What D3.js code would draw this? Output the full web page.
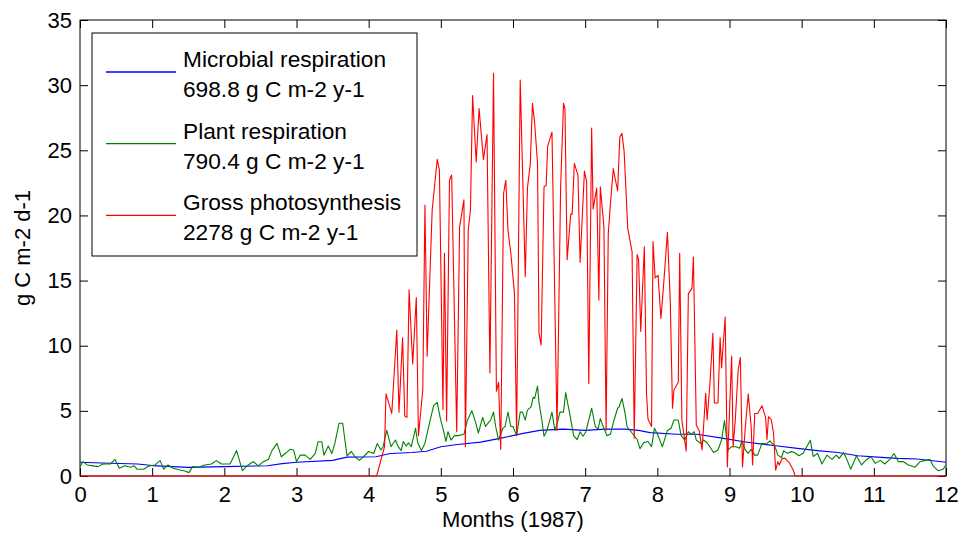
<!DOCTYPE html>
<html>
<head>
<meta charset="utf-8">
<script src="https://cdn.jsdelivr.net/npm/d3@7"></script>
<style>
    body { margin: 0; background: #fff; }
    svg text { font-family: "Liberation Sans", Arial, sans-serif; fill: #000; }
</style>
</head>
<body>
<div id="chart"></div>
<script>
// 数据（从图中读取，单位：月份 / g C m-2 d-1）
const xTicks = [0, 1, 2, 3, 4, 5, 6, 7, 8, 9, 10, 11, 12];
const yTicks = [0, 5, 10, 15, 20, 25, 30, 35];

const microbialMonth = [0, 0.3, 0.8, 1.0, 1.5, 2.0, 2.6, 2.8, 3.0, 3.5, 3.7, 4.1, 4.3, 4.6, 4.8, 5.0, 5.2, 5.55, 5.82, 6.14, 6.37, 6.69, 7.0, 7.28, 7.56, 7.74, 7.9, 8.27, 8.55, 8.92, 9.2, 9.48, 9.67, 9.94, 10.22, 10.5, 10.78, 11.05, 11.33, 11.6, 12];
const microbialValue = [1.05, 1.0, 0.92, 0.8, 0.66, 0.72, 0.79, 0.95, 1.05, 1.2, 1.45, 1.48, 1.73, 1.8, 1.9, 2.25, 2.4, 2.6, 2.89, 3.27, 3.5, 3.6, 3.5, 3.6, 3.6, 3.5, 3.33, 3.2, 3.2, 2.89, 2.63, 2.43, 2.3, 2.12, 1.95, 1.8, 1.55, 1.45, 1.35, 1.3, 1.05];

const plantMonth = [0, 0.04, 0.10, 0.18, 0.25, 0.32, 0.42, 0.485, 0.545, 0.62, 0.70, 0.75, 0.79, 0.88, 0.96, 1.04, 1.11, 1.16, 1.22, 1.29, 1.39, 1.45, 1.51, 1.56, 1.64, 1.73, 1.82, 1.89, 1.96, 2.08, 2.17, 2.25, 2.33, 2.40, 2.47, 2.54, 2.61, 2.66, 2.73, 2.79, 2.86, 2.91, 2.96, 3.00, 3.05, 3.12, 3.19, 3.26, 3.30, 3.35, 3.38, 3.44, 3.49, 3.53, 3.59, 3.64, 3.70, 3.76, 3.81, 3.87, 3.93, 4.00, 4.07, 4.12, 4.17, 4.20, 4.25, 4.31, 4.37, 4.41, 4.45, 4.48, 4.52, 4.55, 4.59, 4.65, 4.68, 4.73, 4.78, 4.84, 4.90, 4.95, 4.99, 5.04, 5.07, 5.10, 5.14, 5.19, 5.24, 5.32, 5.37, 5.43, 5.48, 5.52, 5.58, 5.62, 5.66, 5.69, 5.73, 5.76, 5.80, 5.86, 5.89, 5.93, 5.97, 6.00, 6.05, 6.10, 6.13, 6.17, 6.20, 6.25, 6.28, 6.30, 6.34, 6.36, 6.40, 6.43, 6.47, 6.54, 6.58, 6.61, 6.65, 6.70, 6.73, 6.79, 6.84, 6.89, 6.93, 6.97, 7.01, 7.09, 7.14, 7.18, 7.21, 7.25, 7.30, 7.35, 7.40, 7.45, 7.47, 7.51, 7.55, 7.58, 7.65, 7.72, 7.76, 7.81, 7.87, 7.92, 7.96, 8.01, 8.07, 8.14, 8.19, 8.23, 8.29, 8.33, 8.38, 8.43, 8.47, 8.51, 8.54, 8.60, 8.64, 8.69, 8.78, 8.84, 8.89, 8.93, 8.98, 9.03, 9.09, 9.14, 9.17, 9.22, 9.26, 9.30, 9.35, 9.39, 9.45, 9.51, 9.56, 9.59, 9.63, 9.67, 9.72, 9.75, 9.80, 9.86, 9.90, 9.96, 10.02, 10.12, 10.16, 10.22, 10.28, 10.35, 10.42, 10.48, 10.52, 10.58, 10.62, 10.68, 10.76, 10.83, 10.90, 10.96, 11.02, 11.09, 11.15, 11.22, 11.28, 11.34, 11.41, 11.48, 11.57, 11.64, 11.71, 11.78, 11.82, 11.89, 11.96, 12];
const plantValue = [0.72, 1.1, 0.85, 0.78, 0.72, 0.92, 0.92, 1.27, 0.6, 0.78, 0.67, 0.78, 0.52, 0.52, 0.78, 0.85, 1.18, 0.52, 0.85, 0.6, 0.46, 0.39, 0.26, 0.72, 0.67, 0.85, 0.92, 1.18, 0.92, 0.92, 1.95, 0.41, 0.85, 1.1, 0.78, 1.1, 1.27, 1.95, 2.5, 1.48, 1.8, 2.05, 2.0, 1.1, 1.6, 1.6, 1.27, 1.73, 2.63, 2.63, 1.6, 2.3, 1.73, 2.46, 4.05, 4.05, 1.55, 1.88, 1.48, 1.2, 1.48, 1.88, 1.73, 2.5, 2.0, 2.25, 3.5, 2.25, 2.76, 2.25, 1.95, 2.65, 2.3, 2.55, 2.25, 3.66, 2.55, 1.95, 2.5, 4.0, 5.4, 5.65, 4.5, 3.4, 2.65, 3.4, 2.76, 3.1, 3.1, 3.2, 4.3, 5.0, 4.15, 3.3, 4.5, 3.8, 4.1, 4.3, 4.9, 3.8, 2.76, 3.66, 3.8, 4.9, 3.8, 3.8, 3.1, 4.9, 4.9, 4.3, 5.05, 5.3, 6.05, 5.95, 6.9, 5.65, 4.3, 3.05, 3.5, 4.9, 3.5, 4.0, 4.9, 4.9, 6.4, 4.65, 3.1, 2.8, 3.4, 3.05, 3.4, 5.2, 3.8, 3.6, 4.4, 3.8, 3.1, 3.2, 4.3, 5.2, 5.3, 5.95, 4.9, 3.8, 3.3, 2.8, 2.1, 2.55, 2.65, 2.25, 3.66, 3.1, 2.25, 3.5, 3.66, 4.3, 4.3, 3.1, 2.76, 3.4, 3.2, 3.4, 2.76, 2.5, 2.76, 2.55, 1.8, 2.0, 2.76, 4.25, 2.0, 2.25, 2.25, 2.13, 2.7, 2.0, 1.74, 2.05, 1.6, 1.6, 2.5, 2.46, 2.7, 2.5, 2.25, 1.6, 1.42, 1.94, 1.74, 1.87, 1.8, 1.55, 1.74, 2.75, 1.5, 1.74, 0.92, 1.6, 1.27, 1.6, 1.35, 1.8, 1.35, 0.52, 1.55, 0.85, 1.27, 1.48, 0.97, 1.2, 0.92, 1.27, 1.73, 1.1, 1.1, 0.85, 0.67, 1.1, 1.2, 1.27, 0.78, 0.41, 0.52, 0.85];

const gppMonth = [0, 4.11, 4.22, 4.24, 4.32, 4.39, 4.42, 4.47, 4.50, 4.53, 4.56, 4.61, 4.66, 4.69, 4.75, 4.78, 4.81, 4.88, 4.95, 4.98, 5.03, 5.05, 5.08, 5.12, 5.15, 5.22, 5.26, 5.32, 5.34, 5.38, 5.41, 5.44, 5.49, 5.53, 5.59, 5.64, 5.68, 5.73, 5.77, 5.80, 5.83, 5.87, 5.90, 5.93, 5.97, 6.02, 6.05, 6.10, 6.17, 6.20, 6.24, 6.27, 6.30, 6.34, 6.36, 6.39, 6.43, 6.46, 6.48, 6.54, 6.61, 6.66, 6.70, 6.72, 6.75, 6.80, 6.82, 6.85, 6.90, 6.93, 6.99, 7.02, 7.05, 7.09, 7.11, 7.16, 7.19, 7.21, 7.26, 7.29, 7.32, 7.35, 7.39, 7.42, 7.45, 7.48, 7.51, 7.54, 7.59, 7.65, 7.68, 7.72, 7.74, 7.77, 7.82, 7.85, 7.87, 7.92, 7.94, 7.97, 8.01, 8.05, 8.09, 8.14, 8.18, 8.21, 8.23, 8.29, 8.31, 8.34, 8.40, 8.43, 8.48, 8.50, 8.54, 8.58, 8.62, 8.67, 8.69, 8.73, 8.77, 8.79, 8.84, 8.87, 8.89, 8.94, 8.97, 9.03, 9.05, 9.08, 9.12, 9.15, 9.18, 9.22, 9.26, 9.30, 9.32, 9.35, 9.39, 9.45, 9.50, 9.52, 9.54, 9.58, 9.61, 9.64, 9.67, 9.69, 9.73, 9.77, 9.83, 9.88, 9.91, 12];
const gppValue = [0, 0, 2.25, 6.3, 4.8, 11.2, 4.9, 10.6, 4.6, 4.5, 14.3, 8.6, 13.7, 3.1, 6.6, 20.8, 9.2, 20.4, 24.3, 23.5, 5.1, 17.1, 4.2, 22.7, 23.1, 3.4, 19.1, 21.2, 2.25, 18.9, 20.4, 29.2, 24.1, 28.2, 24.3, 26.2, 7.9, 30.9, 6.5, 7.2, 2.05, 21.7, 22.7, 18.9, 17.1, 14.0, 3.1, 30.4, 15.3, 22.1, 24.0, 28.6, 27.1, 24.0, 10.95, 10.05, 22.2, 22.3, 25.3, 26.4, 3.5, 22.2, 28.6, 28.2, 16.6, 20.1, 20.1, 24.0, 23.1, 16.4, 23.4, 22.6, 7.1, 26.7, 20.5, 22.1, 13.5, 22.2, 19.1, 3.5, 18.6, 20.9, 23.6, 22.7, 21.9, 26.0, 26.3, 24.9, 19.0, 17.2, 2.9, 17.0, 16.6, 11.1, 17.6, 6.35, 4.4, 3.8, 18.0, 15.2, 15.4, 12.1, 14.9, 18.7, 13.25, 5.2, 6.6, 7.2, 17.1, 4.3, 1.9, 14.0, 14.4, 16.8, 3.9, 3.5, 2.0, 6.35, 4.3, 7.2, 10.95, 5.6, 5.6, 10.6, 8.3, 12.2, 0.7, 9.2, 2.25, 4.3, 8.1, 9.1, 0.7, 3.8, 6.3, 3.8, 0.85, 4.8, 4.8, 5.4, 4.5, 2.8, 4.55, 4.3, 3.3, 0.45, 1.1, 0.85, 1.35, 1.35, 1.0, 0.5, 0, 0];

const seriesNames = ['Microbial respiration', 'Plant respiration', 'Gross photosynthesis'];
const seriesTotals = ['698.8 g C m-2 y-1', '790.4 g C m-2 y-1', '2278 g C m-2 y-1'];
const seriesColors = ['#0000ff', '#008000', '#ff0000'];

// 画布与坐标区
const width = 963, height = 537;
const plot = {left: 80, right: 946, top: 20, bottom: 476};

const svg = d3.select('#chart').append('svg')
    .attr('width', width)
    .attr('height', height);

svg.append('rect')
    .attr('width', width)
    .attr('height', height)
    .attr('fill', '#fff');

const x = d3.scaleLinear().domain([0, 12]).range([plot.left, plot.right]);
const y = d3.scaleLinear().domain([0, 35]).range([plot.bottom, plot.top]);

// 坐标轴（刻度朝内，四边都有）
const fontSize = 22;
const gBottom = svg.append('g')
    .attr('transform', `translate(0,${plot.bottom})`)
    .call(d3.axisBottom(x).tickValues(xTicks).tickSizeInner(-8).tickSizeOuter(0).tickPadding(10));
const gTop = svg.append('g')
    .attr('transform', `translate(0,${plot.top})`)
    .call(d3.axisTop(x).tickValues(xTicks).tickSizeInner(-8).tickSizeOuter(0).tickFormat(''));
const gLeft = svg.append('g')
    .attr('transform', `translate(${plot.left},0)`)
    .call(d3.axisLeft(y).tickValues(yTicks).tickSizeInner(-8).tickSizeOuter(0).tickPadding(8));
const gRight = svg.append('g')
    .attr('transform', `translate(${plot.right},0)`)
    .call(d3.axisRight(y).tickValues(yTicks).tickSizeInner(-8).tickSizeOuter(0).tickFormat(''));

[gBottom, gTop, gLeft, gRight].forEach(g => {
    g.select('.domain').remove();
    g.selectAll('line').attr('stroke', '#000').attr('stroke-width', 1);
    g.selectAll('text')
        .attr('font-size', fontSize)
        .attr('font-family', '"Liberation Sans", Arial, sans-serif')
        .attr('fill', '#000');
});

// 外框
svg.append('rect')
    .attr('x', plot.left)
    .attr('y', plot.top)
    .attr('width', plot.right - plot.left)
    .attr('height', plot.bottom - plot.top)
    .attr('fill', 'none')
    .attr('stroke', '#000')
    .attr('stroke-width', 1);

// 数据曲线
const line = d3.line()
    .x(d => x(d[0]))
    .y(d => y(d[1]));

const series = [
    d3.zip(microbialMonth, microbialValue),
    d3.zip(plantMonth, plantValue),
    d3.zip(gppMonth, gppValue)
];

series.forEach((data, i) => {
    svg.append('path')
        .datum(data)
        .attr('d', line)
        .attr('fill', 'none')
        .attr('stroke', seriesColors[i])
        .attr('stroke-width', 1.1)
        .attr('stroke-linejoin', 'round');
});

// 轴标题
svg.append('text')
    .attr('x', (plot.left + plot.right) / 2)
    .attr('y', 527)
    .attr('text-anchor', 'middle')
    .attr('font-size', fontSize)
    .text('Months (1987)');

svg.append('text')
    .attr('transform', `translate(30,${(plot.top + plot.bottom) / 2}) rotate(-90)`)
    .attr('text-anchor', 'middle')
    .attr('font-size', fontSize)
    .text('g C m-2 d-1');

// 图例
const legend = svg.append('g');
legend.append('rect')
    .attr('x', 92)
    .attr('y', 33)
    .attr('width', 325)
    .attr('height', 223)
    .attr('fill', '#fff')
    .attr('stroke', '#000')
    .attr('stroke-width', 1);

seriesNames.forEach((name, i) => {
    const ly = 72 + i * 71.7;
    legend.append('line')
        .attr('x1', 106).attr('x2', 176)
        .attr('y1', ly).attr('y2', ly)
        .attr('stroke', seriesColors[i])
        .attr('stroke-width', 1.3);
    legend.append('text')
        .attr('x', 183)
        .attr('y', ly - 5)
        .attr('font-size', 22.7)
        .text(name);
    legend.append('text')
        .attr('x', 183)
        .attr('y', ly + 25)
        .attr('font-size', 22.7)
        .text(seriesTotals[i]);
});
</script>
</body>
</html>
